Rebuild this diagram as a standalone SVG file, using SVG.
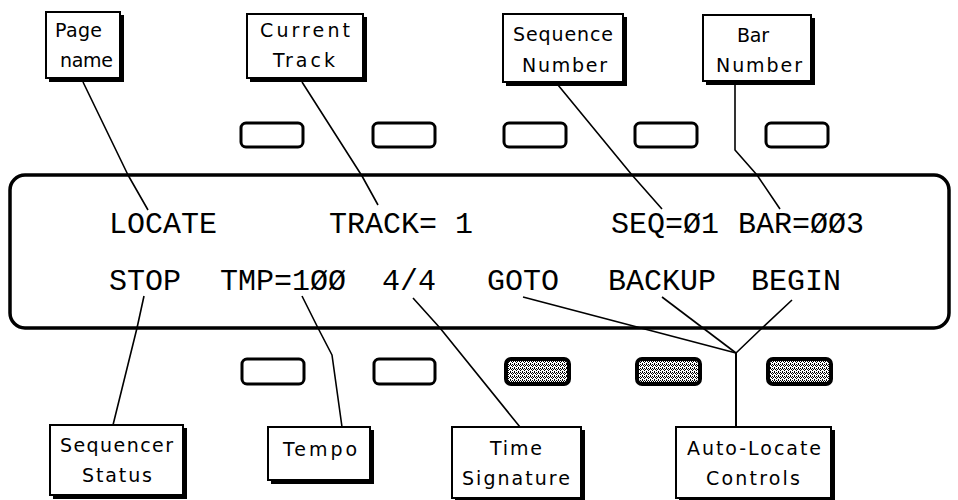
<svg xmlns="http://www.w3.org/2000/svg" width="958" height="500" viewBox="0 0 958 500">
  <style>
    .bg { fill: #ffffff; }
    .shadow { fill: #000000; }
    .box { fill: #ffffff; stroke: #000000; stroke-width: 2; }
    .label { font-family: "DejaVu Sans", "Liberation Sans", sans-serif; font-size: 19px; fill: #000000; }
    .lcd { font-family: "Liberation Mono", "DejaVu Sans Mono", monospace; font-size: 30px; fill: #000000; }
    .panel { fill: none; stroke: #000000; stroke-width: 3.5; }
    .key { fill: #ffffff; stroke: #000000; stroke-width: 3; }
    .key-on { fill: url(#dither); stroke: #000000; stroke-width: 4; }
    .wire { fill: none; stroke: #000000; stroke-width: 1.6; stroke-linejoin: round; }
  </style>
  <defs>
    <pattern id="dither" width="4" height="4" patternUnits="userSpaceOnUse">
      <rect width="4" height="4" fill="#ffffff"/>
      <rect x="0" y="0" width="1" height="1" fill="#000"/>
      <rect x="2" y="0" width="1" height="1" fill="#000"/>
      <rect x="1" y="1" width="1" height="1" fill="#000"/>
      <rect x="3" y="1" width="1" height="1" fill="#000"/>
      <rect x="0" y="2" width="1" height="1" fill="#000"/>
      <rect x="2" y="3" width="1" height="1" fill="#000"/>
    </pattern>
  </defs>

  <rect class="bg" width="958" height="500"/>

  <!-- display panel -->
  <g id="display">
    <rect class="panel" x="10" y="175" width="939" height="153" rx="15"/>
    <text class="lcd" x="109" y="233">LOCATE</text>
    <text class="lcd" x="329" y="233">TRACK= 1</text>
    <text class="lcd" x="611" y="233">SEQ=Ø1</text>
    <text class="lcd" x="738" y="233">BAR=ØØ3</text>
    <text class="lcd" x="109" y="290">STOP</text>
    <text class="lcd" x="220" y="290">TMP=1ØØ</text>
    <text class="lcd" x="382" y="290">4/4</text>
    <text class="lcd" x="487" y="290">GOTO</text>
    <text class="lcd" x="608" y="290">BACKUP</text>
    <text class="lcd" x="751" y="290">BEGIN</text>
  </g>

  <!-- soft keys above the display -->
  <g id="keys-top">
    <rect class="key" x="241" y="123" width="62" height="24" rx="5"/>
    <rect class="key" x="373" y="123" width="62" height="24" rx="5"/>
    <rect class="key" x="504" y="123" width="62" height="24" rx="5"/>
    <rect class="key" x="635" y="123" width="62" height="24" rx="5"/>
    <rect class="key" x="766" y="123" width="62" height="24" rx="5"/>
  </g>

  <!-- soft keys below the display -->
  <g id="keys-bottom">
    <rect class="key" x="242" y="359" width="62" height="25" rx="5"/>
    <rect class="key" x="374" y="359" width="61" height="25" rx="5"/>
    <rect class="key-on" x="506" y="359" width="63" height="25" rx="5"/>
    <rect class="key-on" x="637" y="359" width="63" height="25" rx="5"/>
    <rect class="key-on" x="768" y="359" width="63" height="25" rx="5"/>
  </g>

  <!-- leader lines -->
  <g id="connectors">
    <polyline class="wire" points="83,82 128,175 148,210"/>
    <polyline class="wire" points="302,82 362,176 378,205"/>
    <polyline class="wire" points="558,85 632,175 662,209"/>
    <polyline class="wire" points="735,83 735,150 757,175 780,209"/>
    <polyline class="wire" points="144,296 137,328 113,425"/>
    <polyline class="wire" points="302,296 318,328 332,355 342,427"/>
    <polyline class="wire" points="413,298 440,328 520,427"/>
    <polyline class="wire" points="523,297 736,353"/>
    <polyline class="wire" points="662,297 736,353"/>
    <polyline class="wire" points="792,300 760,330 736,353"/>
    <polyline class="wire" points="736,353 736,427" style="stroke-width:2"/>
  </g>

  <g id="page-name">
    <rect class="shadow" x="49" y="15" width="75" height="67"/>
    <rect class="box" x="46" y="12" width="74" height="66"/>
    <text class="label" x="55" y="37" textLength="47" lengthAdjust="spacing">Page</text>
    <text class="label" x="60" y="67" textLength="53" lengthAdjust="spacing">name</text>
  </g>

  <g id="current-track">
    <rect class="shadow" x="250" y="17" width="117" height="65"/>
    <rect class="box" x="247" y="14" width="116" height="64"/>
    <text class="label" x="260" y="37" textLength="90" lengthAdjust="spacing">Current</text>
    <text class="label" x="273" y="67" textLength="62" lengthAdjust="spacing">Track</text>
  </g>

  <g id="sequence-number">
    <rect class="shadow" x="506" y="17" width="121" height="69"/>
    <rect class="box" x="503" y="14" width="120" height="68"/>
    <text class="label" x="513" y="41" textLength="100" lengthAdjust="spacing">Sequence</text>
    <text class="label" x="522" y="72" textLength="85" lengthAdjust="spacing">Number</text>
  </g>

  <g id="bar-number">
    <rect class="shadow" x="706" y="18" width="109" height="67"/>
    <rect class="box" x="703" y="15" width="108" height="66"/>
    <text class="label" x="737" y="42" textLength="32" lengthAdjust="spacing">Bar</text>
    <text class="label" x="716" y="72" textLength="86" lengthAdjust="spacing">Number</text>
  </g>

  <g id="sequencer-status">
    <rect class="shadow" x="53" y="428" width="134" height="71"/>
    <rect class="box" x="50" y="425" width="133" height="70"/>
    <text class="label" x="60" y="452" textLength="113" lengthAdjust="spacing">Sequencer</text>
    <text class="label" x="82" y="482" textLength="70" lengthAdjust="spacing">Status</text>
  </g>

  <g id="tempo">
    <rect class="shadow" x="271" y="430" width="103" height="54"/>
    <rect class="box" x="268" y="427" width="102" height="53"/>
    <text class="label" x="283" y="456" textLength="74" lengthAdjust="spacing">Tempo</text>
  </g>

  <g id="time-signature">
    <rect class="shadow" x="455" y="430" width="130" height="72"/>
    <rect class="box" x="452" y="427" width="129" height="71"/>
    <text class="label" x="490" y="455" textLength="52" lengthAdjust="spacing">Time</text>
    <text class="label" x="462" y="485" textLength="108" lengthAdjust="spacing">Signature</text>
  </g>

  <g id="auto-locate-controls">
    <rect class="shadow" x="679" y="430" width="156" height="72"/>
    <rect class="box" x="676" y="427" width="155" height="71"/>
    <text class="label" x="687" y="455" textLength="134" lengthAdjust="spacing">Auto-Locate</text>
    <text class="label" x="706" y="485" textLength="94" lengthAdjust="spacing">Controls</text>
  </g>
</svg>
